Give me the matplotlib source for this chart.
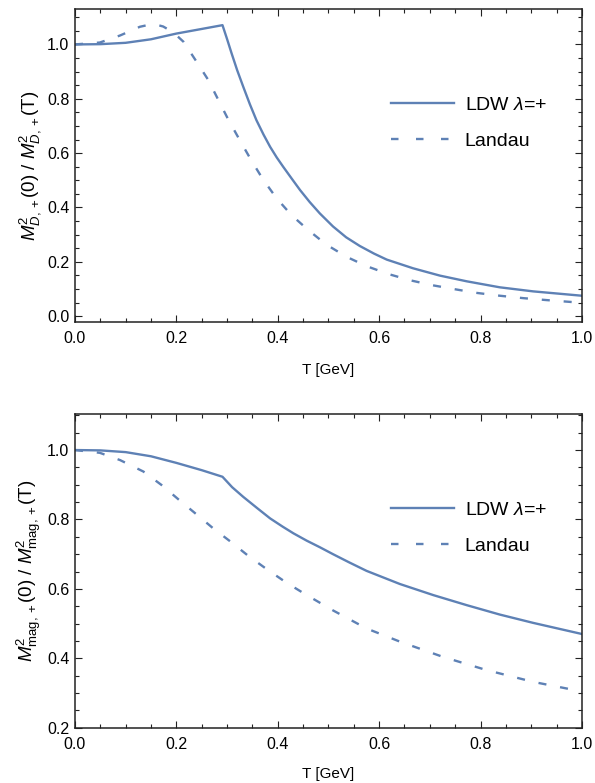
import matplotlib
matplotlib.use("Agg")
import matplotlib.pyplot as plt
from matplotlib.lines import Line2D
from matplotlib.ticker import MultipleLocator, FormatStrFormatter

plt.rcParams['font.family'] = ['Liberation Sans', 'DejaVu Sans']
plt.rcParams['mathtext.fontset'] = 'custom'
plt.rcParams['mathtext.rm'] = 'Liberation Sans'
plt.rcParams['mathtext.it'] = 'Liberation Sans:italic'
plt.rcParams['mathtext.bf'] = 'Liberation Sans:bold'
plt.rcParams['lines.scale_dashes'] = False

# --- top panel: Debye mass ratio ---
t_ldw_d = [0.0, 0.05, 0.10, 0.15, 0.20, 0.25, 0.291, 0.30, 0.309, 0.32, 0.332,
           0.345, 0.358, 0.372, 0.385, 0.398, 0.411, 0.428, 0.444, 0.463, 0.483,
           0.509, 0.535, 0.562, 0.59, 0.615, 0.641, 0.667, 0.72, 0.773, 0.838,
           0.904, 1.0]
m_ldw_d = [1.0, 1.001, 1.006, 1.019, 1.04, 1.057, 1.071, 1.02, 0.967, 0.905, 0.844,
           0.78, 0.721, 0.668, 0.623, 0.584, 0.549, 0.505, 0.464, 0.42, 0.378,
           0.33, 0.29, 0.258, 0.23, 0.208, 0.192, 0.176, 0.149, 0.128, 0.106,
           0.091, 0.075]

t_lan_d = [0.0, 0.049, 0.089, 0.105, 0.128, 0.145, 0.16, 0.174, 0.187, 0.20, 0.214,
           0.240, 0.263, 0.283, 0.302, 0.325, 0.347, 0.371, 0.398, 0.427, 0.46,
           0.496, 0.536, 0.575, 0.618, 0.661, 0.704, 0.746, 0.79, 0.838, 0.885,
           0.93, 1.0]
m_lan_d = [1.0, 1.007, 1.033, 1.046, 1.065, 1.072, 1.073, 1.066, 1.052, 1.034, 1.01,
           0.936, 0.869, 0.795, 0.725, 0.648, 0.576, 0.503, 0.433, 0.372, 0.317,
           0.263, 0.218, 0.184, 0.155, 0.132, 0.114, 0.1, 0.086, 0.075, 0.066,
           0.059, 0.049]

# --- bottom panel: magnetic mass ratio ---
t_ldw_m = [0.0, 0.05, 0.10, 0.15, 0.20, 0.25, 0.291, 0.31, 0.332, 0.36, 0.385,
           0.41, 0.431, 0.457, 0.483, 0.509, 0.54, 0.575, 0.641, 0.707, 0.773,
           0.838, 0.904, 1.0]
m_ldw_m = [1.0, 0.999, 0.994, 0.982, 0.963, 0.942, 0.923, 0.893, 0.865, 0.832, 0.803,
           0.779, 0.76, 0.739, 0.72, 0.70, 0.677, 0.652, 0.614, 0.582, 0.553,
           0.526, 0.502, 0.47]

t_lan_m = [0.0, 0.049, 0.089, 0.135, 0.171, 0.204, 0.237, 0.273, 0.307, 0.342,
           0.379, 0.417, 0.455, 0.509, 0.575, 0.641, 0.726, 0.812, 0.904, 0.97, 1.0]
m_lan_m = [1.0, 0.992, 0.971, 0.938, 0.899, 0.858, 0.818, 0.774, 0.736, 0.695,
           0.656, 0.618, 0.584, 0.538, 0.486, 0.448, 0.404, 0.366, 0.332, 0.313, 0.304]

labels = ['LDW $\\lambda$=+', 'Landau']
color = '#5E81B5'
dash = (0, (5.8, 10.0))

fig = plt.figure(figsize=(5.95, 7.83), dpi=100)
ax1 = fig.add_axes([0.126, 0.589, 0.852, 0.399])
ax2 = fig.add_axes([0.126, 0.0706, 0.852, 0.4003])


def style_axes(ax, ylim, ylabel, xpad):
    ax.set_xlim(0, 1.0)
    ax.set_ylim(*ylim)
    ax.xaxis.set_major_locator(MultipleLocator(0.2))
    ax.xaxis.set_minor_locator(MultipleLocator(0.05))
    ax.yaxis.set_major_locator(MultipleLocator(0.2))
    ax.yaxis.set_minor_locator(MultipleLocator(0.05))
    ax.xaxis.set_major_formatter(FormatStrFormatter('%.1f'))
    ax.yaxis.set_major_formatter(FormatStrFormatter('%.1f'))
    ax.tick_params(which='both', direction='in', top=True, right=True,
                   width=0.8, colors='#222222', labelcolor='black', labelsize=11.5)
    ax.tick_params(which='major', length=5, pad=4)
    ax.tick_params(axis='x', which='major', pad=6.5)
    ax.tick_params(which='minor', length=2.8)
    for s in ax.spines.values():
        s.set_linewidth(1.1)
        s.set_color('#222222')
    ax.set_xlabel('T [GeV]', fontsize=11, labelpad=xpad)
    ax.set_ylabel(ylabel, fontsize=13.5, labelpad=3)


def add_legend(ax):
    h = [Line2D([], [], color=color, lw=1.7),
         Line2D([], [], color=color, lw=1.7, linestyle=(0, (5.4, 12.6)))]
    ax.legend(h, labels, loc='center left', bbox_to_anchor=(0.623, 0.636),
              frameon=False, fontsize=14, handlelength=3.25, handletextpad=0.55,
              labelspacing=0.95, borderpad=0, borderaxespad=0)


ax1.plot(t_ldw_d, m_ldw_d, color=color, lw=1.7)
ax1.plot(t_lan_d, m_lan_d, color=color, lw=1.7, linestyle=dash)
style_axes(ax1, (-0.021, 1.129),
           '$M^2_{D,+}$(0) / $M^2_{D,+}$(T)', 12.5)
add_legend(ax1)

ax2.plot(t_ldw_m, m_ldw_m, color=color, lw=1.7)
ax2.plot(t_lan_m, m_lan_m, color=color, lw=1.7, linestyle=dash)
style_axes(ax2, (0.2, 1.103),
           '$M^2_{\\mathrm{mag},+}$(0) / $M^2_{\\mathrm{mag},+}$(T)', 11)
add_legend(ax2)

fig.savefig('out.png', dpi=100)
